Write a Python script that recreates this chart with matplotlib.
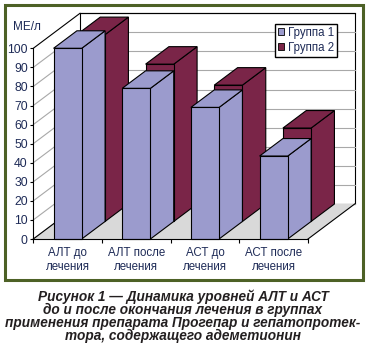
import matplotlib
matplotlib.use("Agg")
import matplotlib.pyplot as plt
from matplotlib.patches import Polygon, Rectangle, Patch

# data
categories = ["АЛТ до\nлечения", "АЛТ после\nлечения", "АСТ до\nлечения", "АСТ после\nлечения"]
group1 = [100, 79, 69, 43.5]
group2 = [98, 82.5, 71.5, 49]
series_names = ["Группа 1", "Группа 2"]
yticks = list(range(0, 101, 10))

caption = ("Рисунок 1 — Динамика уровней АЛТ и АСТ\n"
           "до и после окончания лечения в группах\n"
           "применения препарата Прогепар и гепатопротек-\n"
           "тора, содержащего адеметионин")

# style
C1 = "#9b9bcd"
C2 = "#7a2548"
FLOOR = "#d9d9d9"
GRID = "#a8a8a8"
TXT = "#1e2b57"
BORDER = "#4d6126"
DX, DY = 0.34, 9.18      # oblique offset of one depth row (data units)
BW = 0.41                # bar width

plt.rcParams["font.family"] = ["Liberation Sans", "DejaVu Sans"]

W, H = 368, 351
fig = plt.figure(figsize=(W / 100, H / 100), dpi=100)
fig.patch.set_facecolor("white")

# green frame round the chart
fig.patches.append(Rectangle((5 / W, 1 - 280 / H), 358 / W, 275 / H,
                             transform=fig.transFigure, fill=False,
                             edgecolor=BORDER, linewidth=2.2))

ax = fig.add_axes([33.3 / W, (H - 239) / H, 274.7 / W, 190.7 / H])
ax.set_xlim(0, len(categories))
ax.set_ylim(0, 100)
ax.set_facecolor("none")
n = len(categories)

# walls and floor
ax.add_patch(Polygon([(0, 0), (2 * DX, 2 * DY), (2 * DX, 100 + 2 * DY), (0, 100)],
                     closed=True, facecolor="white", edgecolor="none", clip_on=False, zorder=0.5))
ax.add_patch(Rectangle((2 * DX, 2 * DY), n, 100, facecolor="white",
                       edgecolor="black", linewidth=0.8, clip_on=False, zorder=0.5))
for v in yticks:
    c = "black" if v == 100 else GRID
    ax.plot([0, 2 * DX], [v, v + 2 * DY], color=c, lw=0.8, clip_on=False, zorder=0.6)
    ax.plot([2 * DX, n + 2 * DX], [v + 2 * DY, v + 2 * DY], color=c, lw=0.8,
            clip_on=False, zorder=0.6)
ax.add_patch(Polygon([(0, 0), (n, 0), (n + 2 * DX, 2 * DY), (2 * DX, 2 * DY)],
                     closed=True, facecolor=FLOOR, edgecolor="none", clip_on=False, zorder=0.7))
ax.plot([n, n + 2 * DX], [0, 2 * DY], color="black", lw=0.8, clip_on=False, zorder=0.8)
ax.plot([0, 2 * DX], [0, 2 * DY], color="black", lw=0.8, clip_on=False, zorder=0.8)

# 3D columns: back row (group 2) first, then front row (group 1)
xs = [i + 0.5 for i in range(n)]
for row, (vals, col) in enumerate([(group2, C2), (group1, C1)]):
    depth = 1 - row
    z = 1 + row
    bx = [x + depth * DX for x in xs]
    bars = ax.bar(bx, vals, width=BW, bottom=depth * DY, color=col,
                  edgecolor="black", linewidth=0.8, zorder=z + 0.2, clip_on=False)
    for b, v in zip(bars, vals):
        x0, x1 = b.get_x(), b.get_x() + b.get_width()
        y0, y1 = b.get_y(), b.get_y() + b.get_height()
        top = [(x0, y1), (x1, y1), (x1 + DX, y1 + DY), (x0 + DX, y1 + DY)]
        side = [(x1, y0), (x1 + DX, y0 + DY), (x1 + DX, y1 + DY), (x1, y1)]
        for pts in (side, top):
            ax.add_patch(Polygon(pts, closed=True, facecolor=col, edgecolor="black",
                                 linewidth=0.8, clip_on=False, zorder=z))

# axes
for s in ("top", "right"):
    ax.spines[s].set_visible(False)
for s in ("left", "bottom"):
    ax.spines[s].set_linewidth(0.8)
    ax.spines[s].set_zorder(5)
ax.set_yticks(yticks)
ax.tick_params(axis="y", length=2.5, width=0.8, pad=1.5, labelsize=8.8, labelcolor=TXT)
ax.set_xticks(range(n + 1))
ax.set_xticklabels([])
ax.set_xticks(xs, minor=True)
ax.set_xticklabels(categories, minor=True)
ax.tick_params(axis="x", which="major", length=3, width=0.8)
ax.tick_params(axis="x", which="minor", length=0, pad=6, labelsize=8.3, labelcolor=TXT)
for t in ax.get_xticklabels(minor=True):
    t.set_linespacing(1.15)

fig.text(13 / W, 1 - 27 / H, "МЕ/л", fontsize=8.5, color=TXT, ha="left", va="center")

fig.legend(handles=[Patch(facecolor=C1, edgecolor="black", linewidth=0.6, label=series_names[0]),
                    Patch(facecolor=C2, edgecolor="black", linewidth=0.6, label=series_names[1])],
           loc="upper left", bbox_to_anchor=(275 / W, 1 - 24 / H), fontsize=8.3,
           frameon=True, fancybox=False, edgecolor="black", framealpha=1,
           handlelength=0.55, handleheight=0.55, handletextpad=0.3,
           borderpad=0.25, labelspacing=0.25, borderaxespad=0, labelcolor=TXT)

fig.text(183 / W, 1 - 316 / H, caption, ha="center", va="center", fontsize=9.8,
         fontweight="bold", fontstyle="italic", color="#231f20", linespacing=0.92)

fig.savefig("out.png", dpi=100)
